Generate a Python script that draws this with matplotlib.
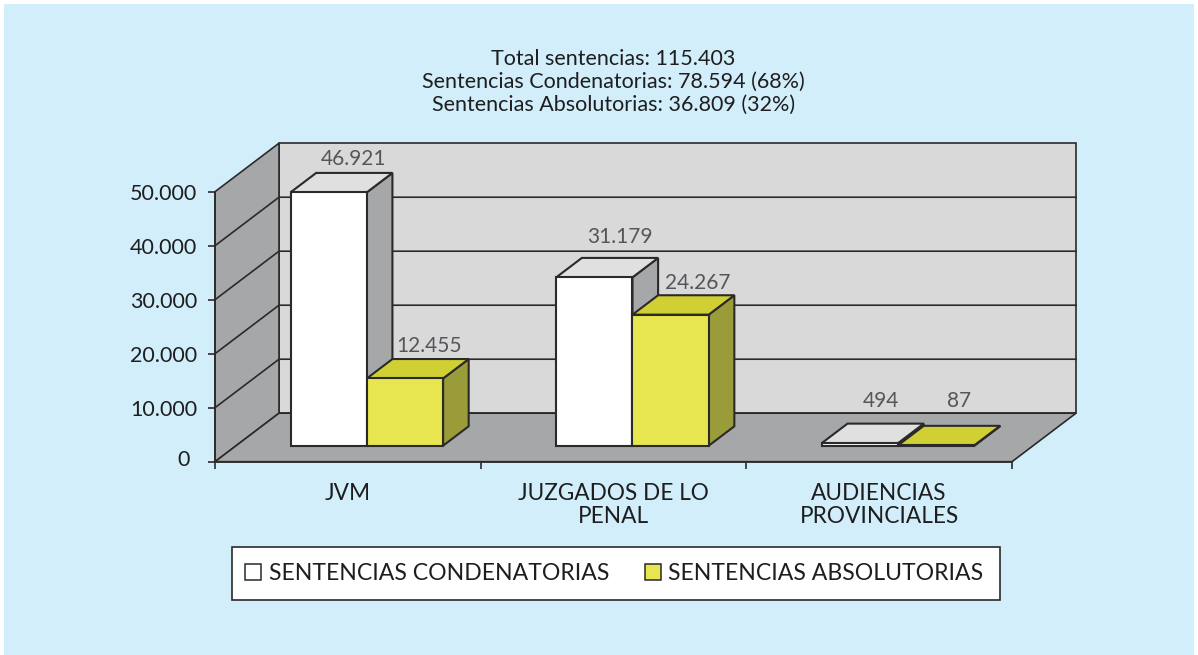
# Sentencias por tipo de organo - fake 3D bars drawn on a flat axes

import matplotlib
matplotlib.use("Agg")
import matplotlib.pyplot as plt
from matplotlib.lines import Line2D
from matplotlib.patches import Polygon, Rectangle
from matplotlib.transforms import ScaledTranslation

# -----------------------
#      Data
# -----------------------
categories = ["JVM", "JUZGADOS DE LO\nPENAL", "AUDIENCIAS\nPROVINCIALES"]
condenatorias = [46921, 31179, 494]
absolutorias = [12455, 24267, 87]
cond_labels = ["46.921", "31.179", "494"]
abs_labels = ["12.455", "24.267", "87"]
yticks = [0, 10000, 20000, 30000, 40000, 50000]
ytick_labels = ["0", "10.000", "20.000", "30.000", "40.000", "50.000"]
title = ("Total sentencias: 115.403\n"
         "Sentencias Condenatorias: 78.594 (68%)\n"
         "Sentencias Absolutorias: 36.809 (32%)")
legend_names = ["SENTENCIAS CONDENATORIAS", "SENTENCIAS ABSOLUTORIAS"]

# -----------------------
#      Style / layout
# -----------------------
plt.rcParams['font.family'] = ['Lato', 'DejaVu Sans']

BG = "#d2eefb"
WALL = "#d9d9d9"
SIDE = "#a6a7a9"
LINE = "#2a2a2a"
WHITE_COLS = ("#ffffff", "#e0e0e0", "#a6a7a9")   # front, top, side
YELLOW_COLS = ("#e8e650", "#d0cf33", "#9a9c3a")

DEPTH_X = 64 / 265.67     # wall depth in category units
DEPTH_Y = 48.5 / 270 * 50000   # wall depth in value units
BAR_D0, BAR_D1 = 0.33, 0.73
BAR_START = 0.205
BAR_W = 0.287

# label nudges (pixels) from the bar's top front centre
cond_nudge = [(25, 33), (26, 40), (21, 42)]
abs_nudge = [(24, 32), (27, 32), (23, 44)]


def proj(x, y, d):
    # depth d runs from 0 (front) to 1 (back wall)
    return (x + d * DEPTH_X, y + d * DEPTH_Y)


fig = plt.figure(figsize=(11.98, 6.55), dpi=100, facecolor="white")
fig.add_artist(Rectangle((4 / 1198, 0), 1190 / 1198, 651 / 655, transform=fig.transFigure,
                         facecolor=BG, edgecolor="none", zorder=-5))

ax = fig.add_axes([215 / 1198, (655 - 461.7) / 655, 797 / 1198, 270 / 655])
ax.patch.set_visible(False)
ax.set_xlim(0, 3)
ax.set_ylim(0, 50000)


def poly(points, color, lw=1.2, z=2):
    ax.add_patch(Polygon(points, closed=True, facecolor=color, edgecolor=LINE,
                         linewidth=lw, joinstyle="miter", clip_on=False, zorder=z))


# walls and floor
poly([proj(0, 0, 1), proj(3, 0, 1), proj(3, 50000, 1), proj(0, 50000, 1)], WALL, z=1)
poly([proj(0, 0, 0), proj(0, 0, 1), proj(0, 50000, 1), proj(0, 50000, 0)], SIDE, z=1)
poly([proj(0, 0, 0), proj(3, 0, 0), proj(3, 0, 1), proj(0, 0, 1)], SIDE, z=1)

# grid lines round the walls
for v in yticks[1:-1]:
    pts = [proj(0, v, 0), proj(0, v, 1), proj(3, v, 1)]
    ax.plot([p[0] for p in pts], [p[1] for p in pts], color=LINE, lw=1.2,
            clip_on=False, zorder=1.5)


def bar3d(x0, x1, value, cols):
    poly([proj(x1, 0, BAR_D0), proj(x1, 0, BAR_D1), proj(x1, value, BAR_D1), proj(x1, value, BAR_D0)],
         cols[2], lw=1.5)
    poly([proj(x0, value, BAR_D0), proj(x1, value, BAR_D0), proj(x1, value, BAR_D1), proj(x0, value, BAR_D1)],
         cols[1], lw=1.5)
    poly([proj(x0, 0, BAR_D0), proj(x1, 0, BAR_D0), proj(x1, value, BAR_D0), proj(x0, value, BAR_D0)],
         cols[0], lw=1.5)


for i in range(len(categories)):
    x0 = i + BAR_START
    x1 = x0 + BAR_W
    x2 = x1 + BAR_W
    bar3d(x0, x1, condenatorias[i], WHITE_COLS)
    bar3d(x1, x2, absolutorias[i], YELLOW_COLS)
    ax.annotate(cond_labels[i], proj((x0 + x1) / 2, condenatorias[i], BAR_D0),
                xytext=cond_nudge[i], textcoords="offset pixels", ha="center", va="center",
                fontsize=15, color="#55565a", zorder=5)
    ax.annotate(abs_labels[i], proj((x1 + x2) / 2, absolutorias[i], BAR_D0),
                xytext=abs_nudge[i], textcoords="offset pixels", ha="center", va="center",
                fontsize=15, color="#55565a", zorder=5)

# axes
for s in ["top", "right"]:
    ax.spines[s].set_visible(False)
for s in ["left", "bottom"]:
    ax.spines[s].set_color(LINE)
    ax.spines[s].set_linewidth(1.2)
    ax.spines[s].set_zorder(3)
ax.set_yticks(yticks)
ax.set_yticklabels(ytick_labels, fontsize=15.5, color="#1e1e1e")
ax.tick_params(axis="y", length=5, width=1.2, color=LINE, pad=8)
ax.set_xticks([0, 1, 2, 3])
ax.set_xticklabels([])
ax.set_xticks([0.5, 1.5, 2.5], minor=True)
ax.set_xticklabels(categories, minor=True, fontsize=16.3, color="#1e1e1e", linespacing=1.12)
ax.tick_params(axis="x", which="minor", length=0, pad=15)
ax.tick_params(axis="x", which="major", length=5, width=1.2, color=LINE)

# the zero label sits a little high and to the left of the others
zero = ax.get_yticklabels()[0]
zero.set_transform(zero.get_transform() + ScaledTranslation(-7 / 100, 4 / 100, fig.dpi_scale_trans))

ax.set_title(title, fontsize=15.5, color="#1e1e1e", pad=58, linespacing=1.18)

handles = [Line2D([], [], linestyle="none", marker="s", markersize=11.5, markerfacecolor=c,
                  markeredgecolor=LINE, markeredgewidth=1.1)
           for c in (WHITE_COLS[0], YELLOW_COLS[0])]
leg = ax.legend(handles, legend_names, ncol=2, loc="center", fontsize=16.6,
                bbox_to_anchor=(616 / 1198, (655 - 573.5) / 655), bbox_transform=fig.transFigure,
                fancybox=False, framealpha=1, facecolor="white", edgecolor=LINE,
                handlelength=0.4, handletextpad=0.47, columnspacing=1.7, borderpad=0.7,
                labelcolor="#1e1e1e")
leg.get_frame().set_linewidth(1.2)

fig.savefig("out.png", dpi=100)
